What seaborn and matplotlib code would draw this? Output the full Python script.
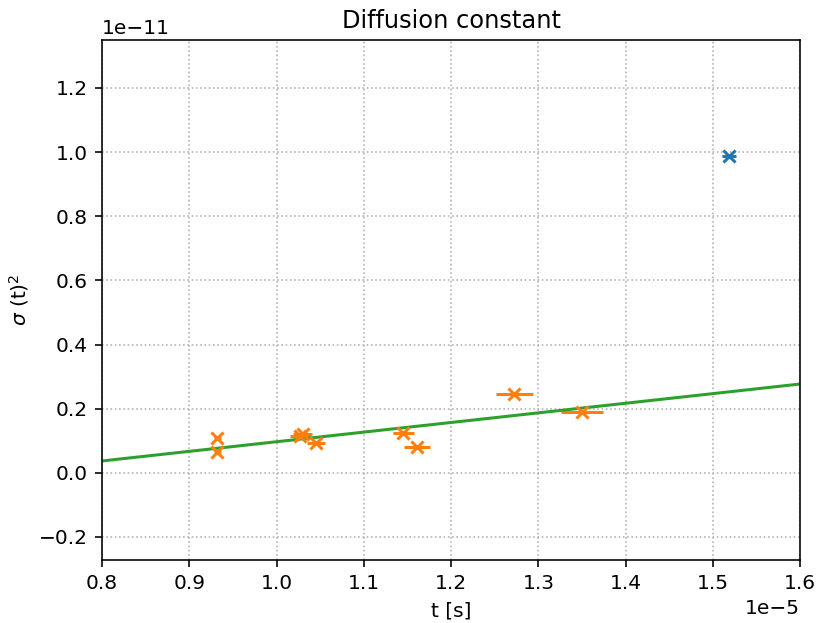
import matplotlib
matplotlib.use("Agg")
import matplotlib.pyplot as plt
import seaborn as sns
import numpy as np
import pandas as pd

# Measured mean square displacement vs time
t_used = [0.932e-5, 0.932e-5, 1.027e-5, 1.030e-5, 1.045e-5, 1.145e-5, 1.161e-5, 1.2725e-5, 1.350e-5]
sigma2_used = [0.110e-11, 0.066e-11, 0.115e-11, 0.121e-11, 0.0925e-11, 0.124e-11, 0.080e-11, 0.245e-11, 0.191e-11]
t_err_used = [0.004e-5, 0.004e-5, 0.011e-5, 0.011e-5, 0.010e-5, 0.012e-5, 0.015e-5, 0.0215e-5, 0.024e-5]

# Outlier excluded from the fit
t_out = [1.518e-5]
sigma2_out = [0.988e-11]
t_err_out = [0.008e-5]

# Linear fit parameters
fit_slope = 0.30e-6
fit_intercept = -0.203e-11
t_fit = [0.8e-5, 1.6e-5]

sns.set_style("ticks")
plt.rcParams["font.family"] = ["DejaVu Sans"]
plt.rcParams["text.color"] = "black"
plt.rcParams["axes.labelcolor"] = "black"

fig = plt.figure(figsize=(819 / 145, 623 / 145), dpi=145)
ax = fig.add_axes([0.1245, 0.101, 0.8525, 0.835])

blue, orange, green = sns.color_palette("tab10")[:3]

ax.errorbar(t_out, sigma2_out, xerr=t_err_out, fmt="none", ecolor=blue, lw=1.5)
sns.scatterplot(x=t_out, y=sigma2_out, marker="x", color=blue, s=36, linewidth=1.5, ax=ax, zorder=3)

ax.errorbar(t_used, sigma2_used, xerr=t_err_used, fmt="none", ecolor=orange, lw=1.5)
sns.scatterplot(x=t_used, y=sigma2_used, marker="x", color=orange, s=36, linewidth=1.5, ax=ax, zorder=3)

fit_df = pd.DataFrame({"t": t_fit, "s": [fit_slope * t + fit_intercept for t in t_fit]})
sns.lineplot(data=fit_df, x="t", y="s", color=green, lw=1.5, ax=ax)

ax.set_xlim(0.8e-5, 1.6e-5)
ax.set_ylim(-0.272e-11, 1.35e-11)
ax.set_xticks(np.arange(0.8e-5, 1.6001e-5, 0.1e-5))
ax.set_yticks(np.arange(-0.2e-11, 1.2001e-11, 0.2e-11))
ax.grid(True, ls=":", color="#b0b0b0", lw=0.8)
ax.set_axisbelow(True)
for sp in ax.spines.values():
    sp.set_visible(True)
    sp.set_color("black")
    sp.set_linewidth(0.8)
ax.tick_params(direction="out", length=3.5, width=0.8, colors="black", labelsize=10)
ax.xaxis.get_offset_text().set_color("black")
ax.yaxis.get_offset_text().set_color("black")

ax.set_title("Diffusion constant", fontsize=12)
ax.set_xlabel("t [s]", fontsize=10)
ax.set_ylabel(r"$\sigma$ (t)$^2$", fontsize=10)

fig.savefig("out.png", dpi=145)
